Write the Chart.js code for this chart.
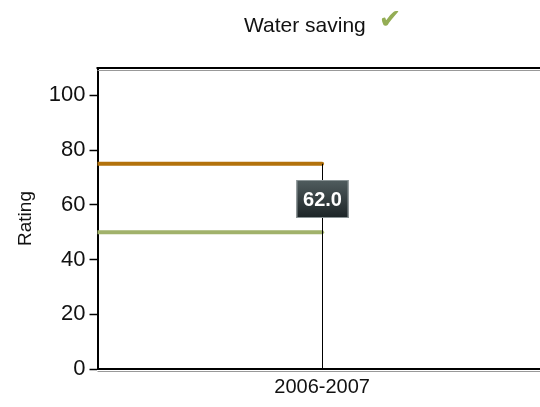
<!DOCTYPE html>
<html>
<head>
<meta charset="utf-8">
<script src="https://cdn.jsdelivr.net/npm/chart.js"></script>
<style>
  html, body { margin: 0; padding: 0; background: #fff; }
  #wrap { width: 540px; height: 407px; }
</style>
</head>
<body>
<div id="wrap"><canvas id="myChart"></canvas></div>
<script>
  const categories = ['2006-2007'];
  const upperTarget = [75];
  const lowerTarget = [50];
  const rating = [62.0];
  const yTicks = [0, 20, 40, 60, 80, 100];
  const chartTitle = 'Water saving';

  const FONT = 'Liberation Sans, Arial, sans-serif';

  // title with green tick, frame top line, drop line, value box
  const extras = {
    id: 'extras',
    afterDraw(chart) {
      const c = chart.ctx;
      const a = chart.chartArea;
      const xs = chart.scales.x, ys = chart.scales.y;
      c.save();
      // shadows + top frame line
      c.strokeStyle = '#999';
      c.lineWidth = 1;
      c.beginPath(); c.moveTo(a.left, a.top + 2.5); c.lineTo(a.right, a.top + 2.5); c.stroke();
      c.beginPath(); c.moveTo(a.left, a.bottom + 2.5); c.lineTo(a.right, a.bottom + 2.5); c.stroke();
      c.strokeStyle = '#000';
      c.lineWidth = 2;
      c.beginPath(); c.moveTo(a.left - 1, a.top); c.lineTo(a.right, a.top); c.stroke();

      // drop line from top target down to the axis
      const px = Math.round(xs.getPixelForValue(1));
      c.lineWidth = 1;
      c.beginPath();
      c.moveTo(px + 0.5, ys.getPixelForValue(upperTarget[0]));
      c.lineTo(px + 0.5, ys.getPixelForValue(0));
      c.stroke();

      // title
      c.font = '21px ' + FONT;
      c.textBaseline = 'middle';
      c.textAlign = 'left';
      const tw = c.measureText(chartTitle).width;
      const tx = 244;
      c.fillStyle = '#111';
      c.fillText(chartTitle, tx, 26);
      c.font = 'bold 27px DejaVu Sans, sans-serif';
      c.fillStyle = '#94ad55';
      c.fillText('\u2714', tx + tw + 13, 21);

      // value box
      const py = Math.round(ys.getPixelForValue(rating[0]));
      const w = 52, h = 38;
      const bx = px - w / 2 + 0.5;
      const g = c.createLinearGradient(0, py - h / 2, 0, py + h / 2);
      g.addColorStop(0, '#505c5e');
      g.addColorStop(1, '#1c2426');
      c.fillStyle = g;
      c.fillRect(bx, py - h / 2, w, h);
      c.strokeStyle = '#8a9496';
      c.lineWidth = 1;
      c.strokeRect(bx + 0.5, py - h / 2 + 0.5, w - 1, h - 1);
      c.fillStyle = '#fff';
      c.font = 'bold 20px ' + FONT;
      c.textAlign = 'center';
      c.fillText(rating[0].toFixed(1), px + 0.5, py + 1);
      c.restore();
    }
  };

  new Chart(document.getElementById('myChart'), {
    type: 'line',
    data: {
      datasets: [
        {
          data: [{ x: 0, y: upperTarget[0] }, { x: 1, y: upperTarget[0] }],
          borderColor: '#b3720c', borderWidth: 4, borderCapStyle: 'round',
          pointRadius: 0
        },
        {
          data: [{ x: 0, y: lowerTarget[0] }, { x: 1, y: lowerTarget[0] }],
          borderColor: '#a1b26b', borderWidth: 4, borderCapStyle: 'round',
          pointRadius: 0
        }
      ]
    },
    options: {
      responsive: true,
      maintainAspectRatio: false,
      animation: false,
      layout: { padding: { top: 68, right: 0, left: 10, bottom: 2 } },
      plugins: { legend: { display: false }, tooltip: { enabled: false }, title: { display: false } },
      scales: {
        x: {
          type: 'linear', min: 0, max: 1.97,
          afterBuildTicks: (s) => { s.ticks = [{ value: 1 }]; },
          grid: { display: false, drawTicks: false },
          border: { color: '#000', width: 2 },
          ticks: {
            callback: () => categories[0],
            color: '#111', font: { size: 20, family: FONT }, padding: 6, maxRotation: 0
          }
        },
        y: {
          min: 0, max: 110,
          afterBuildTicks: (s) => { s.ticks = yTicks.map(v => ({ value: v })); },
          grid: { drawOnChartArea: false, drawTicks: true, tickLength: 8, color: '#000', tickWidth: 1.5 },
          border: { color: '#000', width: 2 },
          ticks: { color: '#111', font: { size: 22, family: FONT }, padding: 4 },
          title: { display: true, text: 'Rating', color: '#111', font: { size: 19, family: FONT }, padding: { bottom: 8 } }
        }
      }
    },
    plugins: [extras]
  });
</script>
</body>
</html>
